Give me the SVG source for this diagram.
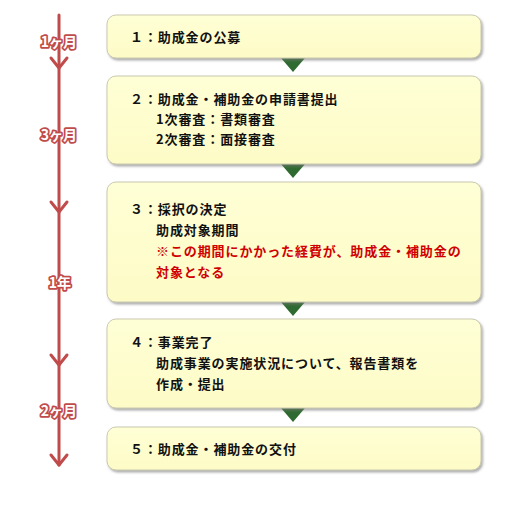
<svg xmlns="http://www.w3.org/2000/svg" width="514" height="516" viewBox="0 0 514 516">
<defs>
<linearGradient id="bg" x1="0" y1="0" x2="0" y2="1">
<stop offset="0" stop-color="#ffffd6"/>
<stop offset="1" stop-color="#fdfbc6"/>
</linearGradient>
<filter id="sh" x="-5%" y="-10%" width="110%" height="130%">
<feDropShadow dx="1.5" dy="2" stdDeviation="1" flood-color="#777" flood-opacity="0.6"/>
</filter>
</defs>
<style>
.box{fill:url(#bg);stroke:#c9c9b0;stroke-width:1;filter:url(#sh)}
.tri{fill:#2f6a30}
.t{font-family:"Noto Sans CJK JP","Noto Sans",sans-serif;font-size:13px;font-weight:bold;fill:#111;letter-spacing:0.9px}
.red{fill:#d00000}
.lbl{font-family:"Noto Sans CJK JP","Noto Sans",sans-serif;font-size:14px;font-weight:bold;fill:#fff;stroke:#c04b4b;stroke-width:3.5px;stroke-linejoin:round;paint-order:stroke;text-anchor:middle}
.tl{stroke:#c04b4b;stroke-width:3;fill:none;stroke-linejoin:round;stroke-linecap:round}
</style>
<g id="timeline">
<line class="tl" x1="59" y1="15" x2="59" y2="465" stroke-linecap="butt"/>
<path class="tl" d="M51,58 L59,68 L67,58"/>
<path class="tl" d="M51,202 L59,212 L67,202"/>
<path class="tl" d="M51,355 L59,365 L67,355"/>
<path class="tl" d="M51,455 L59,465 L67,455"/>
<text class="lbl" x="59" y="47">1ヶ月</text>
<text class="lbl" x="59" y="140">3ヶ月</text>
<text class="lbl" x="60" y="288">1年</text>
<text class="lbl" x="59" y="416">2ヶ月</text>
</g>
<g id="connectors">
<polygon class="tri" points="281,58 305,58 293,72"/>
<polygon class="tri" points="281,164 305,164 293,178"/>
<polygon class="tri" points="281,302 305,302 293,316"/>
<polygon class="tri" points="281,408 305,408 293,422"/>
</g>
<g id="step1">
<rect class="box" x="107" y="15" width="374" height="43" rx="9"/>
<text class="t" x="130" y="42">１：助成金の公募</text>
</g>
<g id="step2">
<rect class="box" x="107" y="76" width="374" height="88" rx="9"/>
<text class="t" x="130" y="104">２：助成金・補助金の申請書提出</text>
<text class="t" x="156" y="124">1次審査：書類審査</text>
<text class="t" x="156" y="144">2次審査：面接審査</text>
</g>
<g id="step3">
<rect class="box" x="107" y="182" width="374" height="120" rx="9"/>
<text class="t" x="130" y="214">３：採択の決定</text>
<text class="t" x="156" y="235">助成対象期間</text>
<text class="t red" x="156" y="256">※この期間にかかった経費が、助成金・補助金の</text>
<text class="t red" x="156" y="277">対象となる</text>
</g>
<g id="step4">
<rect class="box" x="107" y="319" width="374" height="89" rx="9"/>
<text class="t" x="130" y="347">４：事業完了</text>
<text class="t" x="156" y="368">助成事業の実施状況について、報告書類を</text>
<text class="t" x="156" y="389">作成・提出</text>
</g>
<g id="step5">
<rect class="box" x="107" y="427" width="374" height="43" rx="9"/>
<text class="t" x="130" y="454">５：助成金・補助金の交付</text>
</g>
</svg>
